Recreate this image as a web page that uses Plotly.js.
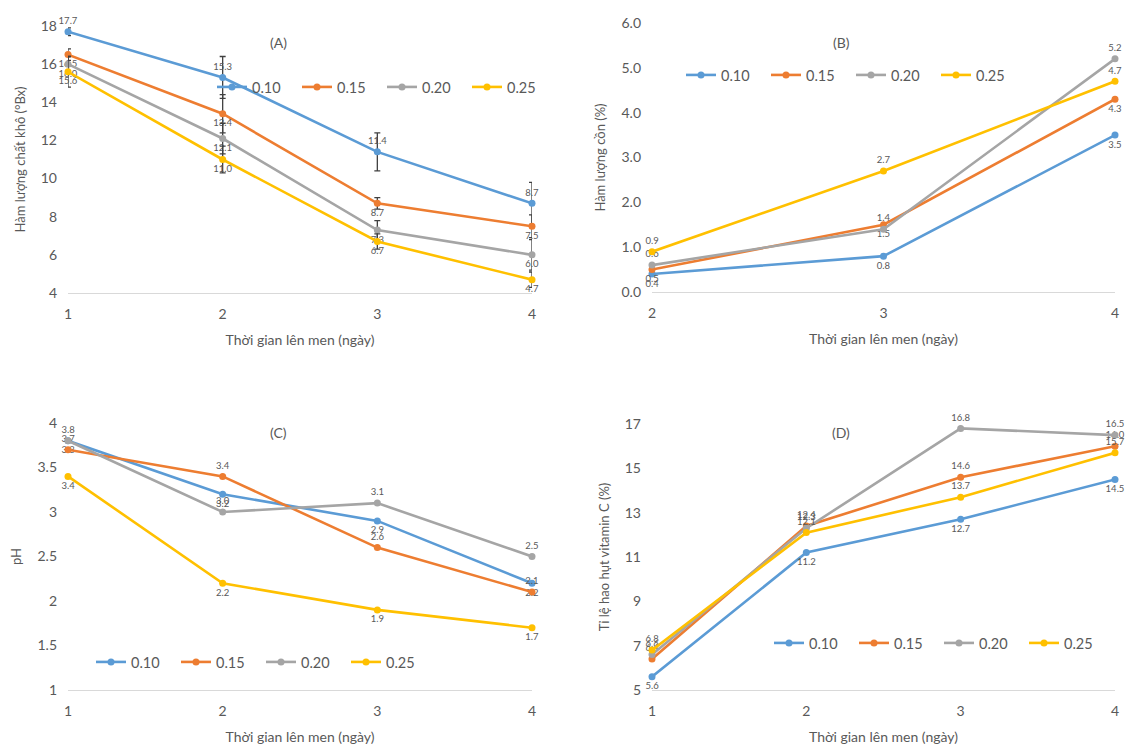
<!DOCTYPE html>
<html>
<head>
<meta charset="utf-8">
<script src="https://cdn.plot.ly/plotly-3.0.1.min.js"></script>
<style>html,body{margin:0;padding:0;background:#fff}#chart{width:1140px;height:752px}</style>
</head>
<body>
<div id="chart"></div>
<script>
// ---- data ----
const seriesNames = ['0.10', '0.15', '0.20', '0.25'];
const days = [1, 2, 3, 4];
const daysB = [2, 3, 4];

// (A) dry matter (°Bx)
const A_010 = [17.7, 15.3, 11.4, 8.7];
const A_015 = [16.5, 13.4, 8.7, 7.5];
const A_020 = [16.0, 12.1, 7.3, 6.0];
const A_025 = [15.6, 11.0, 6.7, 4.7];
const A_err_010 = [0.2, 1.1, 1.0, 1.1];
const A_err_015 = [0.3, 1.0, 0.3, 0.6];
const A_err_020 = [0.4, 0.8, 0.5, 0.8];
const A_err_025 = [0.8, 0.7, 0.4, 0.4];

// (B) alcohol (%)
const B_010 = [0.4, 0.8, 3.5];
const B_015 = [0.5, 1.5, 4.3];
const B_020 = [0.6, 1.4, 5.2];
const B_025 = [0.9, 2.7, 4.7];

// (C) pH
const C_010 = [3.8, 3.2, 2.9, 2.2];
const C_015 = [3.7, 3.4, 2.6, 2.1];
const C_020 = [3.8, 3.0, 3.1, 2.5];
const C_025 = [3.4, 2.2, 1.9, 1.7];

// (D) vitamin C loss (%)
const D_010 = [5.6, 11.2, 12.7, 14.5];
const D_015 = [6.4, 12.4, 14.6, 16.0];
const D_020 = [6.6, 12.3, 16.8, 16.5];
const D_025 = [6.8, 12.1, 13.7, 15.7];

const yTicksA = [4, 6, 8, 10, 12, 14, 16, 18];
const yTicksB = [0, 1, 2, 3, 4, 5, 6];
const yTicksC = [1, 1.5, 2, 2.5, 3, 3.5, 4];
const yTicksD = [5, 7, 9, 11, 13, 15, 17];

// ---- styles ----
const colors = ['#5B9BD5', '#ED7D31', '#A5A5A5', '#FFC000'];
const FONT = 'Lato, "Open Sans", "DejaVu Sans", sans-serif';
const TXT = '#595959';

function mk(x, y, i, xa, ya, leg, pos, err) {
  const t = {
    type: 'scatter', mode: 'lines+markers+text',
    x: x, y: y, name: seriesNames[i],
    xaxis: xa, yaxis: ya, legend: leg,
    line: {color: colors[i], width: 2.6},
    marker: {color: colors[i], size: 7},
    text: y.map(v => v.toFixed(1)),
    textposition: pos,
    textfont: {family: FONT, size: 9.5, color: '#595959'},
    cliponaxis: false,
    hoverinfo: 'x+y+name'
  };
  if (err) {
    t.error_y = {type: 'data', array: err, visible: true, color: '#404040', thickness: 1.3, width: 3};
  }
  return t;
}

const data = [
  mk(days, A_010, 0, 'x', 'y', 'legend', 'top center', A_err_010),
  mk(days, A_015, 1, 'x', 'y', 'legend', 'bottom center', A_err_015),
  mk(days, A_020, 2, 'x', 'y', 'legend', 'bottom center', A_err_020),
  mk(days, A_025, 3, 'x', 'y', 'legend', 'bottom center', A_err_025),

  mk(daysB, B_010, 0, 'x2', 'y2', 'legend2', 'bottom center'),
  mk(daysB, B_015, 1, 'x2', 'y2', 'legend2', 'bottom center'),
  mk(daysB, B_020, 2, 'x2', 'y2', 'legend2', 'top center'),
  mk(daysB, B_025, 3, 'x2', 'y2', 'legend2', 'top center'),

  mk(days, C_010, 0, 'x3', 'y3', 'legend3', 'bottom center'),
  mk(days, C_015, 1, 'x3', 'y3', 'legend3', 'top center'),
  mk(days, C_020, 2, 'x3', 'y3', 'legend3', 'top center'),
  mk(days, C_025, 3, 'x3', 'y3', 'legend3', 'bottom center'),

  mk(days, D_010, 0, 'x4', 'y4', 'legend4', 'bottom center'),
  mk(days, D_015, 1, 'x4', 'y4', 'legend4', 'top center'),
  mk(days, D_020, 2, 'x4', 'y4', 'legend4', 'top center'),
  mk(days, D_025, 3, 'x4', 'y4', 'legend4', 'top center')
];

const W = 1140, H = 752;
const px = v => v / W;
const py = v => 1 - v / H;

function xax(domain, range, tickvals, anchor) {
  return {
    domain: domain, range: range, tickvals: tickvals, ticktext: tickvals.map(String),
    anchor: anchor, showgrid: false, zeroline: false,
    showline: true, linecolor: '#D9D9D9', linewidth: 1.2, ticks: '',
    tickfont: {family: FONT, size: 14, color: TXT}, ticklabelstandoff: 8,
    title: {text: 'Thời gian lên men (ngày)', font: {family: FONT, size: 14, color: TXT}, standoff: 14},
    automargin: false, fixedrange: true
  };
}
function yax(domain, range, tickvals, fmt, title, anchor) {
  return {
    domain: domain, range: range, tickvals: tickvals, ticktext: tickvals.map(fmt),
    anchor: anchor, showgrid: false, zeroline: false, showline: false, ticks: '',
    tickfont: {family: FONT, size: 14, color: TXT}, ticklabelstandoff: 10,
    title: {text: title, font: {family: FONT, size: 13, color: TXT}, standoff: 12},
    automargin: false, fixedrange: true
  };
}

const domL = [px(68), px(532)];
const domR = [px(652), px(1115)];

function legendAt(x, y) {
  return {
    orientation: 'h', x: x, y: y, xanchor: 'left', yanchor: 'middle',
    font: {family: FONT, size: 14.5, color: TXT}, bgcolor: 'rgba(0,0,0,0)',
    entrywidth: 40, entrywidthmode: 'pixels', itemwidth: 30, tracegroupgap: 0
  };
}

const annFont = {family: FONT, size: 14, color: TXT};
const layout = {
  width: W, height: H,
  margin: {l: 0, r: 0, t: 0, b: 0, autoexpand: false},
  paper_bgcolor: '#fff', plot_bgcolor: '#fff',
  showlegend: true,
  xaxis: xax(domL, [1, 4], days, 'y'),
  yaxis: yax([py(293), py(26)], [4, 18], yTicksA, v => String(v), 'Hàm lượng chất khô (°Bx)', 'x'),
  xaxis2: xax(domR, [2, 4], daysB, 'y2'),
  yaxis2: yax([py(292), py(23)], [0, 6], yTicksB, v => v.toFixed(1), 'Hàm lượng cồn (%)', 'x2'),
  xaxis3: xax(domL, [1, 4], days, 'y3'),
  yaxis3: yax([py(690), py(423)], [1, 4], yTicksC, v => String(v), 'pH', 'x3'),
  xaxis4: xax(domR, [1, 4], days, 'y4'),
  yaxis4: yax([py(690), py(424)], [5, 17], yTicksD, v => String(v), 'Tỉ lệ hao hụt vitamin C (%)', 'x4'),
  legend: legendAt(px(212), py(87)),
  legend2: legendAt(px(681), py(75)),
  legend3: legendAt(px(91), py(662)),
  legend4: legendAt(px(769), py(643)),
  annotations: [
    {text: '(A)', x: px(268), y: py(32), xref: 'paper', yref: 'paper', showarrow: false, font: annFont},
    {text: '(B)', x: px(852), y: py(32), xref: 'paper', yref: 'paper', showarrow: false, font: annFont},
    {text: '(C)', x: px(268), y: py(432), xref: 'paper', yref: 'paper', showarrow: false, font: annFont},
    {text: '(D)', x: px(852), y: py(432), xref: 'paper', yref: 'paper', showarrow: false, font: annFont}
  ]
};

Plotly.newPlot('chart', data, layout, {displayModeBar: false, staticPlot: false});
</script>
</body>
</html>
